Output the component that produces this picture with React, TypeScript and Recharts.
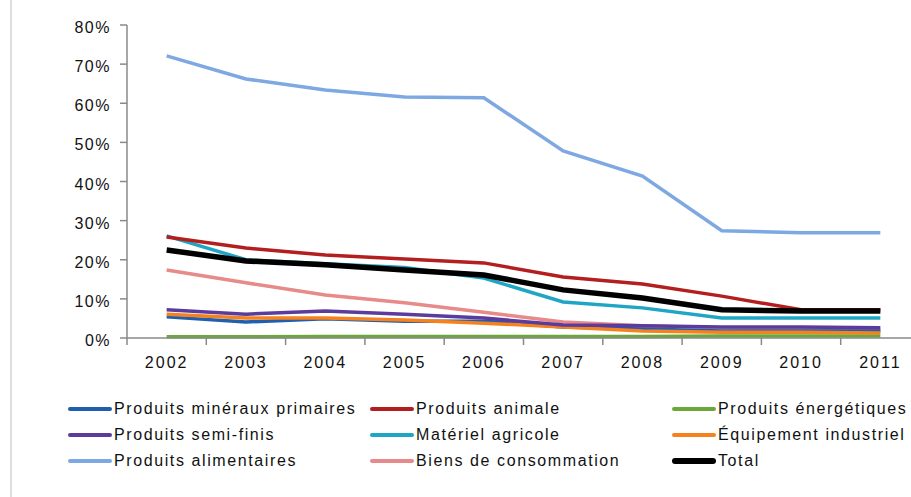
import React from "react";
import { LineChart, Line, XAxis, YAxis } from "recharts";

const years = ["2002", "2003", "2004", "2005", "2006", "2007", "2008", "2009", "2010", "2011"];

const mineraux = [5.4, 4.1, 4.9, 4.3, 4.3, 2.8, 2.3, 1.8, 1.8, 1.8];
const animale = [25.8, 23.0, 21.2, 20.2, 19.2, 15.6, 13.8, 10.7, 7.2, 7.2];
const energetiques = [0.3, 0.3, 0.4, 0.4, 0.4, 0.4, 0.4, 0.5, 0.5, 0.5];
const semiFinis = [7.2, 6.1, 6.9, 6.1, 5.1, 3.3, 3.1, 2.8, 2.8, 2.6];
const materiel = [26.1, 20.0, 19.0, 18.0, 15.3, 9.2, 7.7, 5.1, 5.1, 5.1];
const equipement = [6.1, 5.1, 5.1, 4.6, 3.8, 2.8, 1.8, 1.5, 1.5, 1.3];
const alimentaires = [72.1, 66.2, 63.4, 61.6, 61.4, 47.8, 41.4, 27.4, 26.9, 26.9];
const biens = [17.4, 14.1, 11.0, 9.0, 6.6, 4.1, 3.1, 2.6, 2.3, 2.0];
const total = [22.5, 19.7, 18.7, 17.4, 16.1, 12.3, 10.2, 7.2, 6.9, 6.9];

const yTicks = [0, 10, 20, 30, 40, 50, 60, 70, 80];

const series = [
  { key: "alimentaires", name: "Produits alimentaires", values: alimentaires, color: "#7ea8e2", width: 3.5 },
  { key: "biens", name: "Biens de consommation", values: biens, color: "#e68a8a", width: 3.5 },
  { key: "energetiques", name: "Produits énergétiques", values: energetiques, color: "#6aa83a", width: 3.5 },
  { key: "mineraux", name: "Produits minéraux primaires", values: mineraux, color: "#1f5fae", width: 3.5 },
  { key: "equipement", name: "Équipement industriel", values: equipement, color: "#f5821f", width: 3.5 },
  { key: "semiFinis", name: "Produits semi-finis", values: semiFinis, color: "#5b3c9c", width: 3.5 },
  { key: "materiel", name: "Matériel agricole", values: materiel, color: "#1ea6c4", width: 3.5 },
  { key: "animale", name: "Produits animale", values: animale, color: "#b31e1e", width: 3.5 },
  { key: "total", name: "Total", values: total, color: "#000000", width: 5.5 },
];

// legend order, three columns
const legendOrder = [
  "mineraux", "animale", "energetiques",
  "semiFinis", "materiel", "equipement",
  "alimentaires", "biens", "total",
];

const data = years.map((year, i) => {
  const row: Record<string, string | number> = { year };
  series.forEach((s) => {
    row[s.key] = s.values[i];
  });
  return row;
});

const FONT = "'Liberation Sans', Arial, sans-serif";
const TEXT = "#111";
const CHART_W = 930;
const Y_AXIS_W = 127;
const RIGHT = 10;
const BAND = (CHART_W - Y_AXIS_W - RIGHT) / years.length;

function YearTick(props: any) {
  const { x, y, payload } = props;
  return (
    <g>
      <line x1={x - BAND / 2} y1={y} x2={x - BAND / 2} y2={y + 7} stroke="#8a8a8a" strokeWidth={1.5} />
      <text
        x={x}
        y={y + 30}
        textAnchor="middle"
        fontSize={16}
        letterSpacing={2}
        fill={TEXT}
        fontFamily={FONT}
      >
        {payload.value}
      </text>
    </g>
  );
}

function YTick(props: any) {
  const { x, y, payload } = props;
  return (
    <text
      x={x}
      y={y + 8}
      textAnchor="end"
      fontSize={16}
      letterSpacing={1.5}
      fill={TEXT}
      fontFamily={FONT}
    >
      {`${payload.value}%`}
    </text>
  );
}

export default function App() {
  const colX = [68, 370, 672];
  const rowY = [409, 435, 461];
  return (
    <div
      style={{
        position: "absolute",
        left: 0,
        top: 0,
        width: 911,
        height: 497,
        overflow: "hidden",
        background: "#fff",
        fontFamily: FONT,
      }}
    >
      <div style={{ position: "absolute", left: 10, top: 0, width: 2, height: 497, background: "#dedede" }} />
      <div style={{ position: "absolute", left: 0, top: 0 }}>
        <LineChart
          width={CHART_W}
          height={400}
          data={data}
          margin={{ top: 25, right: RIGHT, bottom: 22, left: 0 }}
        >
          <XAxis
            dataKey="year"
            height={40}
            padding={{ left: BAND / 2, right: BAND / 2 }}
            stroke="#8a8a8a"
            strokeWidth={1.5}
            tickLine={false}
            tickSize={0}
            tickMargin={0}
            interval={0}
            tick={<YearTick />}
          />
          <YAxis
            width={Y_AXIS_W}
            domain={[0, 80]}
            ticks={yTicks}
            interval={0}
            stroke="#8a8a8a"
            strokeWidth={1.5}
            tickSize={7}
            tickMargin={9}
            tick={<YTick />}
          />
          {series.map((s) => (
            <Line
              key={s.key}
              dataKey={s.key}
              name={s.name}
              stroke={s.color}
              strokeWidth={s.width}
              dot={false}
              type="linear"
              isAnimationActive={false}
            />
          ))}
        </LineChart>
      </div>
      {legendOrder.map((k, i) => {
        const s = series.find((x) => x.key === k)!;
        const cx = colX[i % 3];
        const cy = rowY[Math.floor(i / 3)];
        return (
          <div
            key={k}
            style={{
              position: "absolute",
              left: cx,
              top: cy - 11,
              height: 22,
              display: "flex",
              alignItems: "center",
              whiteSpace: "nowrap",
            }}
          >
            <div
              style={{
                width: 44,
                height: s.key === "total" ? 6 : 4,
                borderRadius: 3,
                background: s.color,
              }}
            />
            <span
              style={{
                marginLeft: 2,
                fontSize: 16,
                letterSpacing: 1.6,
                color: TEXT,
              }}
            >
              {s.name}
            </span>
          </div>
        );
      })}
    </div>
  );
}
